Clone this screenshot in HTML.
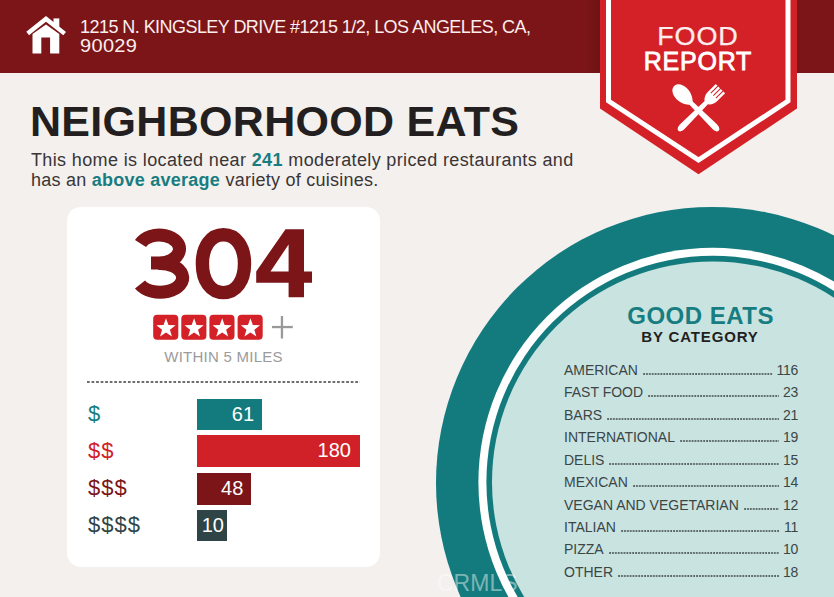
<!DOCTYPE html>
<html><head><meta charset="utf-8">
<style>
*{margin:0;padding:0;box-sizing:border-box}
html,body{width:834px;height:597px;overflow:hidden;background:#f4f0ee;font-family:"Liberation Sans",sans-serif}
.abs{position:absolute}
#hdr{left:0;top:0;width:834px;height:72.6px;background:#7b1517}
.addr{left:80px;top:17.5px;color:#fbeeee;font-size:18px;line-height:19px;letter-spacing:-0.55px;white-space:nowrap}
.addr span{display:inline-block;letter-spacing:0.3px;transform:scaleX(1.11);transform-origin:0 0}
.title{left:30px;top:95px;color:#231f20;font-size:43px;letter-spacing:0.3px;font-weight:bold;white-space:nowrap;line-height:53px}
.desc{left:31px;top:151.3px;color:#3a3536;font-size:18px;line-height:19.5px;letter-spacing:0.37px;white-space:nowrap}
.desc b{color:#177d80}
#card{left:67px;top:207px;width:313px;height:360px;background:#fff;border-radius:14px}

.within{left:67px;top:348px;width:313px;text-align:center;color:#9b9b9b;font-size:15px;line-height:17px;letter-spacing:0.25px}
.dash{left:87px;top:381.3px;width:273px;height:1.3px;background:linear-gradient(90deg,#6e6e6e 0 2.6px,transparent 2.6px) 0 0/4.55px 100% repeat-x}
.lbl{left:88px;font-size:22px;line-height:30px;height:30px;letter-spacing:1px}
.bar{left:196.5px;height:31.7px;color:#fff;font-size:20px;line-height:31.7px;text-align:right;padding-right:6px}
.ge{left:565.6px;letter-spacing:0.5px;top:302px;width:270px;text-align:center;color:#177d80;font-size:24px;font-weight:bold;line-height:27px}
.bc{left:565px;letter-spacing:0.85px;top:327px;width:270px;text-align:center;color:#231f20;font-size:15px;font-weight:bold;line-height:19px}
.list{left:564px;top:359px;width:234px}
.row{display:flex;height:22.43px;line-height:22px;font-size:14px;color:#3b4646;align-items:baseline}
.v{letter-spacing:-0.3px}
.dots{flex:1;margin:0 4px 0 5px;height:2px;background:radial-gradient(circle at 1px 1px,#3b4646 0.6px,transparent 0.95px) 0 0/2.9px 2px repeat-x}

.food{left:599px;top:23px;width:197px;text-align:center;color:#fbeeee;font-size:25px;line-height:27px;letter-spacing:0.8px;text-indent:0.8px;transform:scaleX(1.08);-webkit-text-stroke:0.25px #fbeeee}
.report{left:599px;top:47px;width:197px;text-align:center;color:#fff;font-size:25px;font-weight:normal;line-height:28px;letter-spacing:0.8px;text-indent:0.8px;-webkit-text-stroke:0.8px #fff}
.wm{left:437px;top:569px;color:rgba(255,255,255,0.45);font-size:23px;line-height:28px;letter-spacing:0px}
</style></head><body>
<div id="hdr" class="abs"></div>
<svg class="abs" style="left:24px;top:14px" width="46" height="42" viewBox="24 14 46 42">
  <g fill="#fff">
    <rect x="53.5" y="18.4" width="5.8" height="8.5"/>
    <path d="M26.3 31.8 L46 15.9 L66 32 L63.3 35.2 L46 21.8 L29 35.2 Z"/>
    <path d="M32.5 53.5 L32.5 34 L46 24.5 L59.3 34 L59.3 53.5 L50.1 53.5 L50.1 37.6 L41.3 37.6 L41.3 53.5 Z"/>
  </g>
</svg>
<div class="abs addr">1215 N. KINGSLEY DRIVE #1215 1/2, LOS ANGELES, CA,<br><span>90029</span></div>

<div class="abs" style="left:586px;top:0;width:14px;height:72.6px;background:linear-gradient(90deg,rgba(0,0,0,0),rgba(0,0,0,0.1))"></div>
<!-- badge -->
<svg class="abs" style="left:0;top:0" width="834" height="200">
  <path d="M600 0 L797 0 L797 108.6 L698.5 174.2 L600 108.5 Z" fill="#d42027"/>
  <path d="M608.5 0 L608.5 101 L698.5 160 L788 101 L788 0" fill="none" stroke="#fff" stroke-width="5"/>
</svg>


<div class="abs food">FOOD</div>
<div class="abs report">REPORT</div>
<svg class="abs" style="left:660px;top:75px" width="75" height="65" viewBox="660 75 75 65">
  <g fill="#fff" transform="translate(698.5 110.5) rotate(-45)">
    <path d="M0 -34.5 C4.8 -34.5 7.5 -29 7.5 -23.5 C7.5 -17 4 -12.5 2.3 -10.5 L3.2 21 Q3.6 28.5 0 28.5 Q-3.6 28.5 -3.2 21 L-2.3 -10.5 C-4 -12.5 -7.5 -17 -7.5 -23.5 C-7.5 -29 -4.8 -34.5 0 -34.5 Z"/>
  </g>
  <g fill="#fff" transform="translate(698.5 110.5) rotate(45)">
    <path d="M-6.6 -31 L-6.6 -20 Q-6.6 -14 -2.3 -11 L-3.2 21 Q-3.6 28.5 0 28.5 Q3.6 28.5 3.2 21 L2.3 -11 Q6.6 -14 6.6 -20 L6.6 -31 L4.1 -31 L4.1 -21 L3.05 -21 L3.05 -31 L0.52 -31 L0.52 -21 L-0.52 -21 L-0.52 -31 L-3.05 -31 L-3.05 -21 L-4.1 -21 L-4.1 -31 Z"/>
  </g>
</svg>
<div class="abs title">NEIGHBORHOOD EATS</div>
<div class="abs desc">This home is located near <b>241</b> moderately priced restaurants and<br><span style="letter-spacing:0.25px">has an <b>above average</b> variety of cuisines.</span></div>

<div id="card" class="abs"></div>
<svg class="abs" style="left:120px;top:215px" width="210" height="95" viewBox="120 215 210 95">
  <g fill="none" stroke="#7b1517" stroke-width="13">
    <path d="M140.5 243.5 A20.3 14 0 1 1 158 263 L151 263"/>
    <path d="M158 263.5 A22.6 14.4 0 1 1 140 284.5"/>
    <path d="M223.45 234.80 C236.08 234.80 244.50 246.36 244.50 263.70 C244.50 281.04 236.08 292.60 223.45 292.60 C210.82 292.60 202.40 281.04 202.40 263.70 C202.40 246.36 210.82 234.80 223.45 234.80 Z" stroke-width="13.4"/>
  </g>
  <path fill="#7b1517" fill-rule="evenodd" d="M285.5 229.3 L304 229.3 L304 271.4 L312 271.4 L312 282.7 L304 282.7 L304 297.3 L288.6 297.3 L288.6 282.7 L256.2 282.7 L256.2 271.4 Z M270.5 271.4 L288.6 244.5 L288.6 271.4 Z"/>
</svg>
<svg class="abs" style="left:150px;top:312px" width="150" height="30" viewBox="150 312 150 30">
  
  <rect x="153.2" y="314.7" width="25.1" height="25" rx="4" fill="#d42027"/>
  <rect x="181.3" y="314.7" width="25.1" height="25" rx="4" fill="#d42027"/>
  <rect x="209.4" y="314.7" width="25.1" height="25" rx="4" fill="#d42027"/>
  <rect x="237.6" y="314.7" width="25.1" height="25" rx="4" fill="#d42027"/>
  <path d="M0.00 -10.10 L2.44 -3.36 L9.61 -3.12 L3.95 1.28 L5.94 8.17 L0.00 4.15 L-5.94 8.17 L-3.95 1.28 L-9.61 -3.12 L-2.44 -3.36 Z" transform="translate(166 328.4)" fill="#fff"/>
  <path d="M0.00 -10.10 L2.44 -3.36 L9.61 -3.12 L3.95 1.28 L5.94 8.17 L0.00 4.15 L-5.94 8.17 L-3.95 1.28 L-9.61 -3.12 L-2.44 -3.36 Z" transform="translate(194.1 328.4)" fill="#fff"/>
  <path d="M0.00 -10.10 L2.44 -3.36 L9.61 -3.12 L3.95 1.28 L5.94 8.17 L0.00 4.15 L-5.94 8.17 L-3.95 1.28 L-9.61 -3.12 L-2.44 -3.36 Z" transform="translate(222.2 328.4)" fill="#fff"/>
  <path d="M0.00 -10.10 L2.44 -3.36 L9.61 -3.12 L3.95 1.28 L5.94 8.17 L0.00 4.15 L-5.94 8.17 L-3.95 1.28 L-9.61 -3.12 L-2.44 -3.36 Z" transform="translate(250.4 328.4)" fill="#fff"/>
  <rect x="272" y="325.9" width="20.8" height="2.3" fill="#999"/>
  <rect x="280.8" y="316" width="2.3" height="22.5" fill="#999"/>
</svg>
<div class="abs within">WITHIN 5 MILES</div>
<div class="abs dash"></div>
<div class="abs lbl" style="top:399px;color:#177d80">$</div>
<div class="abs lbl" style="top:436px;color:#cf2127">$$</div>
<div class="abs lbl" style="top:473px;color:#7b1517">$$$</div>
<div class="abs lbl" style="top:510px;color:#2f4446">$$$$</div>
<div class="abs bar" style="top:398.5px;width:65.3px;background:#137b7d;padding-right:7.7px">61</div>
<div class="abs bar" style="top:435.3px;width:163.1px;background:#cf2127;padding-right:8.7px">180</div>
<div class="abs bar" style="top:472.9px;width:54.2px;background:#7b1517;padding-right:7.4px">48</div>
<div class="abs bar" style="top:509.7px;width:30.1px;background:#2f4446;padding-right:2.6px">10</div>


<!-- circles -->
<svg class="abs" style="left:0;top:0" width="834" height="597">
  <circle cx="712" cy="483" r="276" fill="#137b7d"/>
  <circle cx="712.8" cy="482.2" r="234.4" fill="#fff"/>
  <circle cx="712.8" cy="482.2" r="226.4" fill="#137b7d"/>
  <circle cx="712.8" cy="482.2" r="220.8" fill="#c9e3e1"/>
</svg>
<div class="abs ge">GOOD EATS</div>
<div class="abs bc">BY CATEGORY</div>
<div class="abs list">
<div class="row"><span class="nm">AMERICAN</span><span class="dots"></span><span class="v">116</span></div>
<div class="row"><span class="nm">FAST FOOD</span><span class="dots"></span><span class="v">23</span></div>
<div class="row"><span class="nm">BARS</span><span class="dots"></span><span class="v">21</span></div>
<div class="row"><span class="nm">INTERNATIONAL</span><span class="dots"></span><span class="v">19</span></div>
<div class="row"><span class="nm">DELIS</span><span class="dots"></span><span class="v">15</span></div>
<div class="row"><span class="nm">MEXICAN</span><span class="dots"></span><span class="v">14</span></div>
<div class="row"><span class="nm">VEGAN AND VEGETARIAN</span><span class="dots"></span><span class="v">12</span></div>
<div class="row"><span class="nm">ITALIAN</span><span class="dots"></span><span class="v">11</span></div>
<div class="row"><span class="nm">PIZZA</span><span class="dots"></span><span class="v">10</span></div>
<div class="row"><span class="nm">OTHER</span><span class="dots"></span><span class="v">18</span></div>
</div>
<div class="abs wm">CRMLS</div>
</body></html>
